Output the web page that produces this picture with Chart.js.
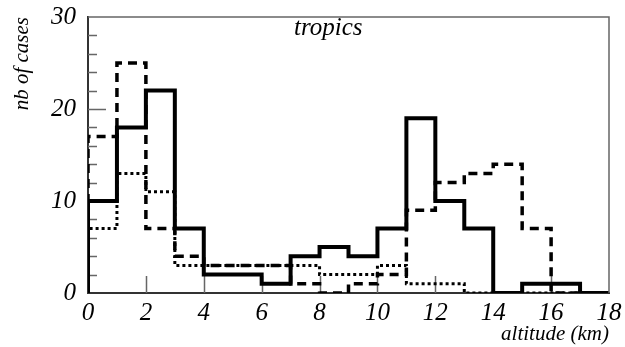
<!DOCTYPE html>
<html>
<head>
<meta charset="utf-8">
<script src="https://cdn.jsdelivr.net/npm/chart.js@4"></script>
<style>
  body { margin: 0; background: #fff; }
  canvas { display: block; }
</style>
</head>
<body>
<canvas id="altitudeHist" width="625" height="347"></canvas>
<script>
  // bin lower edges (km), one bin per km from 0 to 18
  const binEdges = [0, 1, 2, 3, 4, 5, 6, 7, 8, 9, 10, 11, 12, 13, 14, 15, 16, 17, 18];
  // number of cases in each bin
  const solidCounts = [10, 18, 22, 7, 2, 2, 1, 4, 5, 4, 7, 19, 10, 7, 0, 1, 1, 0];
  const dashedCounts = [17, 25, 7, 4, 3, 3, 3, 1, 0, 1, 2, 9, 12, 13, 14, 7, 0, 0];
  const dottedCounts = [7, 13, 11, 3, 3, 3, 3, 3, 2, 2, 3, 1, 1, 0, 0, 0, 0, 0];
  const xTicks = [0, 2, 4, 6, 8, 10, 12, 14, 16, 18];
  const yTicks = [0, 10, 20, 30];

  const serif = "'Liberation Serif', 'DejaVu Serif', serif";

  // turn bin counts into step points: start on the axis, then one point per bin edge
  function stepPoints(counts) {
    const pts = [{ x: binEdges[0], y: 0 }];
    counts.forEach((c, i) => pts.push({ x: binEdges[i], y: c }));
    pts.push({ x: binEdges[binEdges.length - 1], y: counts[counts.length - 1] });
    return pts;
  }

  function histSet(counts, width, dash) {
    return {
      data: stepPoints(counts),
      stepped: true,
      borderColor: "#000",
      borderWidth: width,
      borderDash: dash,
      borderCapStyle: "butt",
      borderJoinStyle: "miter",
      pointRadius: 0,
      fill: false,
    };
  }

  // inner tick marks, closed frame and the "tropics" tag
  const frameAndTicks = {
    id: "frameAndTicks",
    beforeDatasetsDraw(chart) {
      const { ctx, chartArea: a, scales } = chart;
      ctx.save();
      ctx.strokeStyle = "#666";
      ctx.lineWidth = 1.5;
      ctx.beginPath();
      for (let v = 2; v < 30; v += 2) {
        const y = Math.round(scales.y.getPixelForValue(v)) + 0.5;
        const len = v % 10 === 0 ? 18 : 9;
        ctx.moveTo(a.left, y);
        ctx.lineTo(a.left + len, y);
      }
      xTicks.slice(1, -1).forEach((v) => {
        const x = Math.round(scales.x.getPixelForValue(v)) + 0.5;
        ctx.moveTo(x, a.bottom);
        ctx.lineTo(x, a.bottom - 17);
      });
      ctx.stroke();
      ctx.restore();
    },
    afterDraw(chart) {
      const { ctx, chartArea: a, scales } = chart;
      ctx.save();
      ctx.strokeStyle = "#666";
      ctx.lineWidth = 1.5;
      ctx.beginPath();
      ctx.moveTo(a.left, a.top);
      ctx.lineTo(a.right, a.top);
      ctx.lineTo(a.right, a.bottom);
      ctx.stroke();

      ctx.fillStyle = "#000";
      ctx.font = "italic 25px " + serif;
      ctx.textAlign = "center";
      ctx.textBaseline = "alphabetic";
      ctx.fillText("tropics", scales.x.getPixelForValue(8.3), a.top + 18);
      ctx.restore();
    },
  };

  new Chart(document.getElementById("altitudeHist"), {
    type: "line",
    data: {
      datasets: [
        histSet(solidCounts, 4, []),
        histSet(dashedCounts, 3.5, [9, 6]),
        histSet(dottedCounts, 3, [3, 3]),
      ],
    },
    options: {
      responsive: false,
      devicePixelRatio: 1,
      animation: false,
      layout: { padding: { top: 17, right: 16, left: 0, bottom: 0 } },
      plugins: {
        legend: { display: false },
        tooltip: { enabled: false },
      },
      scales: {
        x: {
          type: "linear",
          min: 0,
          max: 18,
          afterBuildTicks: (scale) => {
            scale.ticks = xTicks.map((v) => ({ value: v }));
          },
          afterFit: (scale) => {
            scale.height = 54;
            scale.paddingLeft = 0;
            scale.paddingRight = 0;
          },
          grid: { display: false, drawTicks: false },
          border: { display: true, color: "#333", width: 2 },
          ticks: {
            color: "#000",
            padding: 5,
            maxRotation: 0,
            autoSkip: false,
            font: { family: serif, style: "italic", size: 25 },
          },
          title: {
            display: true,
            text: "altitude (km)",
            align: "end",
            color: "#000",
            padding: { top: 0, bottom: 2 },
            font: { family: serif, style: "italic", size: 21, lineHeight: 1 },
          },
        },
        y: {
          type: "linear",
          min: 0,
          max: 30,
          afterBuildTicks: (scale) => {
            scale.ticks = yTicks.map((v) => ({ value: v }));
          },
          afterFit: (scale) => {
            scale.width = 88;
            scale.paddingTop = 0;
            scale.paddingBottom = 0;
          },
          grid: { display: false, drawTicks: false },
          border: { display: true, color: "#333", width: 2 },
          ticks: {
            color: "#000",
            padding: 12,
            font: { family: serif, style: "italic", size: 25 },
          },
          title: {
            display: true,
            text: "nb of cases",
            align: "end",
            color: "#000",
            padding: { top: 12, bottom: 0 },
            font: { family: serif, style: "italic", size: 21, lineHeight: 1 },
          },
        },
      },
    },
    plugins: [frameAndTicks],
  });
</script>
</body>
</html>
